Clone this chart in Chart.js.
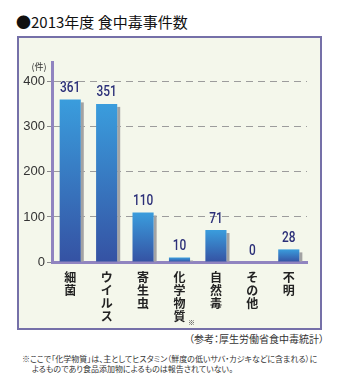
<!DOCTYPE html>
<html>
<head>
<meta charset="utf-8">
<script src="https://cdn.jsdelivr.net/npm/chart.js@4"></script>
<style>
  body { margin: 0; background: #fff; font-family: "Noto Sans CJK JP", sans-serif; }
  #wrap { position: relative; width: 338px; height: 376px; overflow: hidden; }
  #title { position: absolute; left: 16px; top: 11px; font-size: 15px; font-weight: 400; color: #111; white-space: nowrap; }
  #box { position: absolute; left: 17px; top: 36px; width: 301px; height: 290px; border: 2px solid #7570a8; background: #f4f7eb; }
  #src { position: absolute; right: 14px; top: 331px; font-size: 10px; color: #333; font-feature-settings: "palt"; white-space: nowrap; }
  .note { position: absolute; font-size: 8px; color: #333; font-feature-settings: "palt"; white-space: nowrap; }
  canvas { position: absolute; left: 0; top: 0; }
</style>
</head>
<body>
<div id="wrap">
  <div id="title">●2013年度 食中毒事件数</div>
  <div id="box"></div>
  <div id="src">（参考：厚生労働省食中毒統計）</div>
  <div class="note" style="left:22px;top:353px">※ここで「化学物質」は、主としてヒスタミン（鮮度の低いサバ・カジキなどに含まれる）に</div>
  <div class="note" style="left:32px;top:363px">よるものであり食品添加物によるものは報告されていない。</div>
  <canvas id="myChart" width="338" height="376"></canvas>
</div>
<script>
const categories = ['細菌', 'ウイルス', '寄生虫', '化学物質', '自然毒', 'その他', '不明'];
const cases = [361, 351, 110, 10, 71, 0, 28];
const yTicks = [0, 100, 200, 300, 400];

const ctx = document.getElementById('myChart').getContext('2d');

function barGradient(context) {
    const chart = context.chart;
    const y = chart.scales.y;
    if (!chart.chartArea || !y) return '#3a7ac4';
    const v = context.raw || 0;
    const top = y.getPixelForValue(v);
    const bottom = y.getPixelForValue(0);
    const g = chart.ctx.createLinearGradient(0, top, 0, Math.max(bottom, top + 1));
    g.addColorStop(0, '#3a9ddd');
    g.addColorStop(1, '#3552a3');
    return g;
}

const barShadow = {
    id: 'barShadow',
    beforeDatasetsDraw(chart) {
        const c = chart.ctx;
        c.save();
        c.fillStyle = '#a3a3a3';
        chart.getDatasetMeta(0).data.forEach(bar => {
            const h = bar.base - bar.y;
            if (h < 2) return;
            c.fillRect(bar.x + bar.width / 2, bar.y + 3, 3, h - 3);
        });
        c.restore();
    }
};

const extras = {
    id: 'extras',
    afterDatasetsDraw(chart) {
        const c = chart.ctx;
        c.save();
        c.fillStyle = '#2b2f78';
        c.font = '500 14px Roboto, sans-serif';
        c.textAlign = 'center';
        c.textBaseline = 'bottom';
        chart.getDatasetMeta(0).data.forEach((bar, i) => {
            c.save();
            c.translate(bar.x, bar.y - 4);
            c.scale(0.85, 1);
            c.fillText(String(cases[i]), 0, 0);
            c.restore();
        });
        c.fillStyle = '#333';
        c.font = '9px "Noto Sans CJK JP"';
        c.textBaseline = 'middle';
        c.fillText('(件)', 39, 67);
        // ※ mark next to 化学物質
        const xs = chart.scales.x;
        c.font = '7px "Noto Sans CJK JP"';
        c.fillText('※', xs.getPixelForValue(3) + 12, 322);
        c.restore();
    }
};

const myChart = new Chart(ctx, {
    type: 'bar',
    data: {
        labels: categories.map(s => s.split('')),
        datasets: [{
            label: '食中毒事件数',
            data: cases,
            backgroundColor: barGradient,
            categoryPercentage: 1,
            barPercentage: 0.58,
        }]
    },
    options: {
        responsive: false,
        animation: false,
        layout: { padding: { top: 62, right: 31, left: 0, bottom: 0 } },
        plugins: {
            legend: { display: false },
            tooltip: { enabled: false }
        },
        scales: {
            x: {
                grid: { display: false, drawTicks: false },
                border: { color: '#9084c0', width: 3 },
                ticks: {
                    color: '#222',
                    padding: 9,
                    maxRotation: 0,
                    autoSkip: false,
                    font: { family: '"Noto Sans CJK JP"', size: 12, weight: 'bold', lineHeight: 1.08 }
                },
                afterFit: s => { s.height = 114; }
            },
            y: {
                min: 0,
                max: 444,
                afterBuildTicks: s => { s.ticks = yTicks.map(v => ({ value: v })); },
                grid: {
                    color: ctx2 => ctx2.tick && ctx2.tick.value === 0 ? 'rgba(0,0,0,0)' : '#9c9c9c',
                    tickLength: 5,
                    tickColor: '#8a8a8a',
                    tickBorderDash: [],
                    lineWidth: 1
                },
                border: { color: '#9084c0', width: 3, dash: [7, 5] },
                ticks: {
                    color: '#333',
                    padding: 2,
                    font: { family: '"Liberation Sans", sans-serif', size: 13 }
                },
                afterFit: s => { s.width = 52; }
            }
        }
    },
    plugins: [barShadow, extras]
});
</script>
</body>
</html>
